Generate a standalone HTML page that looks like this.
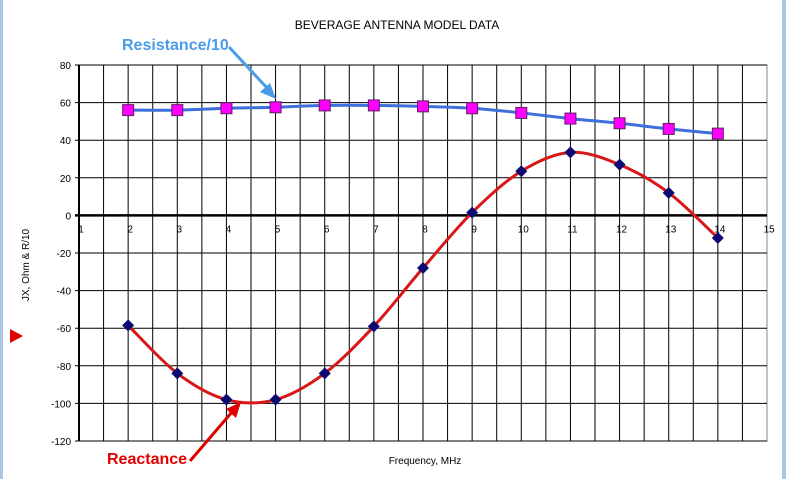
<!DOCTYPE html>
<html><head><meta charset="utf-8">
<style>
html,body{margin:0;padding:0;background:#fff;}
body{width:786px;height:479px;overflow:hidden;position:relative;font-family:"Liberation Sans",sans-serif;}
</style></head>
<body>
<svg width="786" height="479" xmlns="http://www.w3.org/2000/svg" font-family="Liberation Sans, sans-serif">
<rect x="0" y="0" width="3" height="479" fill="#a9c6e8"/>
<rect x="782" y="0" width="4" height="479" fill="#a9c6e8"/>
<polygon points="10,329 10,343 23,336" fill="#e00000"/>
<text x="397" y="29" font-size="12" text-anchor="middle" fill="#000">BEVERAGE ANTENNA  MODEL DATA</text>
<g id="grid"></g>
<g id="series"></g>
<text transform="translate(29,265) rotate(-90)" font-size="10" text-anchor="middle">JX, Ohm &amp; R/10</text>
<text x="425" y="464" font-size="10" text-anchor="middle">Frequency, MHz</text>
<text x="122" y="50" font-size="16" font-weight="bold" fill="#4a9be8">Resistance/10</text>
<line x1="229" y1="47" x2="268" y2="89" stroke="#4a9be8" stroke-width="3"/>
<polygon points="276,99 260,92 270,83" fill="#4a9be8"/>
<text x="107" y="464" font-size="16" font-weight="bold" fill="#e00000">Reactance</text>
<line x1="190" y1="461" x2="232" y2="412" stroke="#e00000" stroke-width="3"/>
<polygon points="241,402 226,409 236,418" fill="#e00000"/>
</svg>
<script>
const freqs=[2,3,4,5,6,7,8,9,10,11,12,13,14];
const resistance=[56,56,57,57.5,58.5,58.5,58,57,54.5,51.5,49,46,43.5];
const reactance=[-58.5,-84,-98,-98,-84,-59,-28,1.5,23.5,33.5,27,12,-12];
const xTicks=[1,2,3,4,5,6,7,8,9,10,11,12,13,14,15];
const yTicks=[80,60,40,20,0,-20,-40,-60,-80,-100,-120];
const NS="http://www.w3.org/2000/svg";
const X0=79,X1=767,Y0=65,Y1=441;
function sx(v){return X0+(v-1)/14*(X1-X0);}
function sy(v){return Y0+(80-v)/200*(Y1-Y0);}
function mk(tag,attrs,parent){const e=document.createElementNS(NS,tag);for(const k in attrs)e.setAttribute(k,attrs[k]);parent.appendChild(e);return e;}
const grid=document.getElementById('grid');
const ser=document.getElementById('series');
mk('rect',{x:X0,y:Y0,width:X1-X0,height:Y1-Y0,fill:'#fff',stroke:'#888','stroke-width':1},grid);
for(let v=1.5;v<15;v+=0.5){const l=mk('line',{x1:sx(v),y1:Y0,x2:sx(v),y2:Y1,stroke:'#000','stroke-width':1},grid);

}
yTicks.forEach(v=>{
const l=mk('line',{x1:X0-4,y1:sy(v),x2:X1,y2:sy(v),stroke:'#000','stroke-width':v===0?2.5:1},grid);


const t=mk('text',{x:X0-8,y:sy(v)+4,'font-size':10,'text-anchor':'end'},grid);t.textContent=v;


});
mk('line',{x1:X0,y1:Y0,x2:X0,y2:Y1,stroke:'#000','stroke-width':2},grid);
xTicks.forEach(v=>{
const t=mk('text',{x:sx(v)+2,y:sy(0)+17,'font-size':10,'text-anchor':'middle'},grid);t.textContent=v;


});
function smooth(pts){let d='M'+pts[0][0]+','+pts[0][1];
for(let i=0;i<pts.length-1;i++){const p0=pts[i-1]||pts[i],p1=pts[i],p2=pts[i+1],p3=pts[i+2]||p2;
const c1=[p1[0]+(p2[0]-p0[0])/6,p1[1]+(p2[1]-p0[1])/6],c2=[p2[0]-(p3[0]-p1[0])/6,p2[1]-(p3[1]-p1[1])/6];
d+=' C'+c1+' '+c2+' '+p2;}return d;}
const rp=freqs.map((f,i)=>[sx(f),sy(resistance[i])]);
const xp=freqs.map((f,i)=>[sx(f),sy(reactance[i])]);
const rl=mk('path',{d:smooth(rp),fill:'none',stroke:'#3f6fdc','stroke-width':3},ser);


const xl=mk('path',{d:smooth(xp),fill:'none',stroke:'#d81818','stroke-width':3},ser);


rp.forEach(p=>{const r=mk('rect',{x:p[0]-5.5,y:p[1]-5.5,width:11,height:11,fill:'#ff00ff',stroke:'#602060','stroke-width':1},ser);

});
xp.forEach(p=>{const r=mk('polygon',{points:`${p[0]},${p[1]-6} ${p[0]+6},${p[1]} ${p[0]},${p[1]+6} ${p[0]-6},${p[1]}`,fill:'#0a0a70'},ser);

});
</script>
</body></html>
